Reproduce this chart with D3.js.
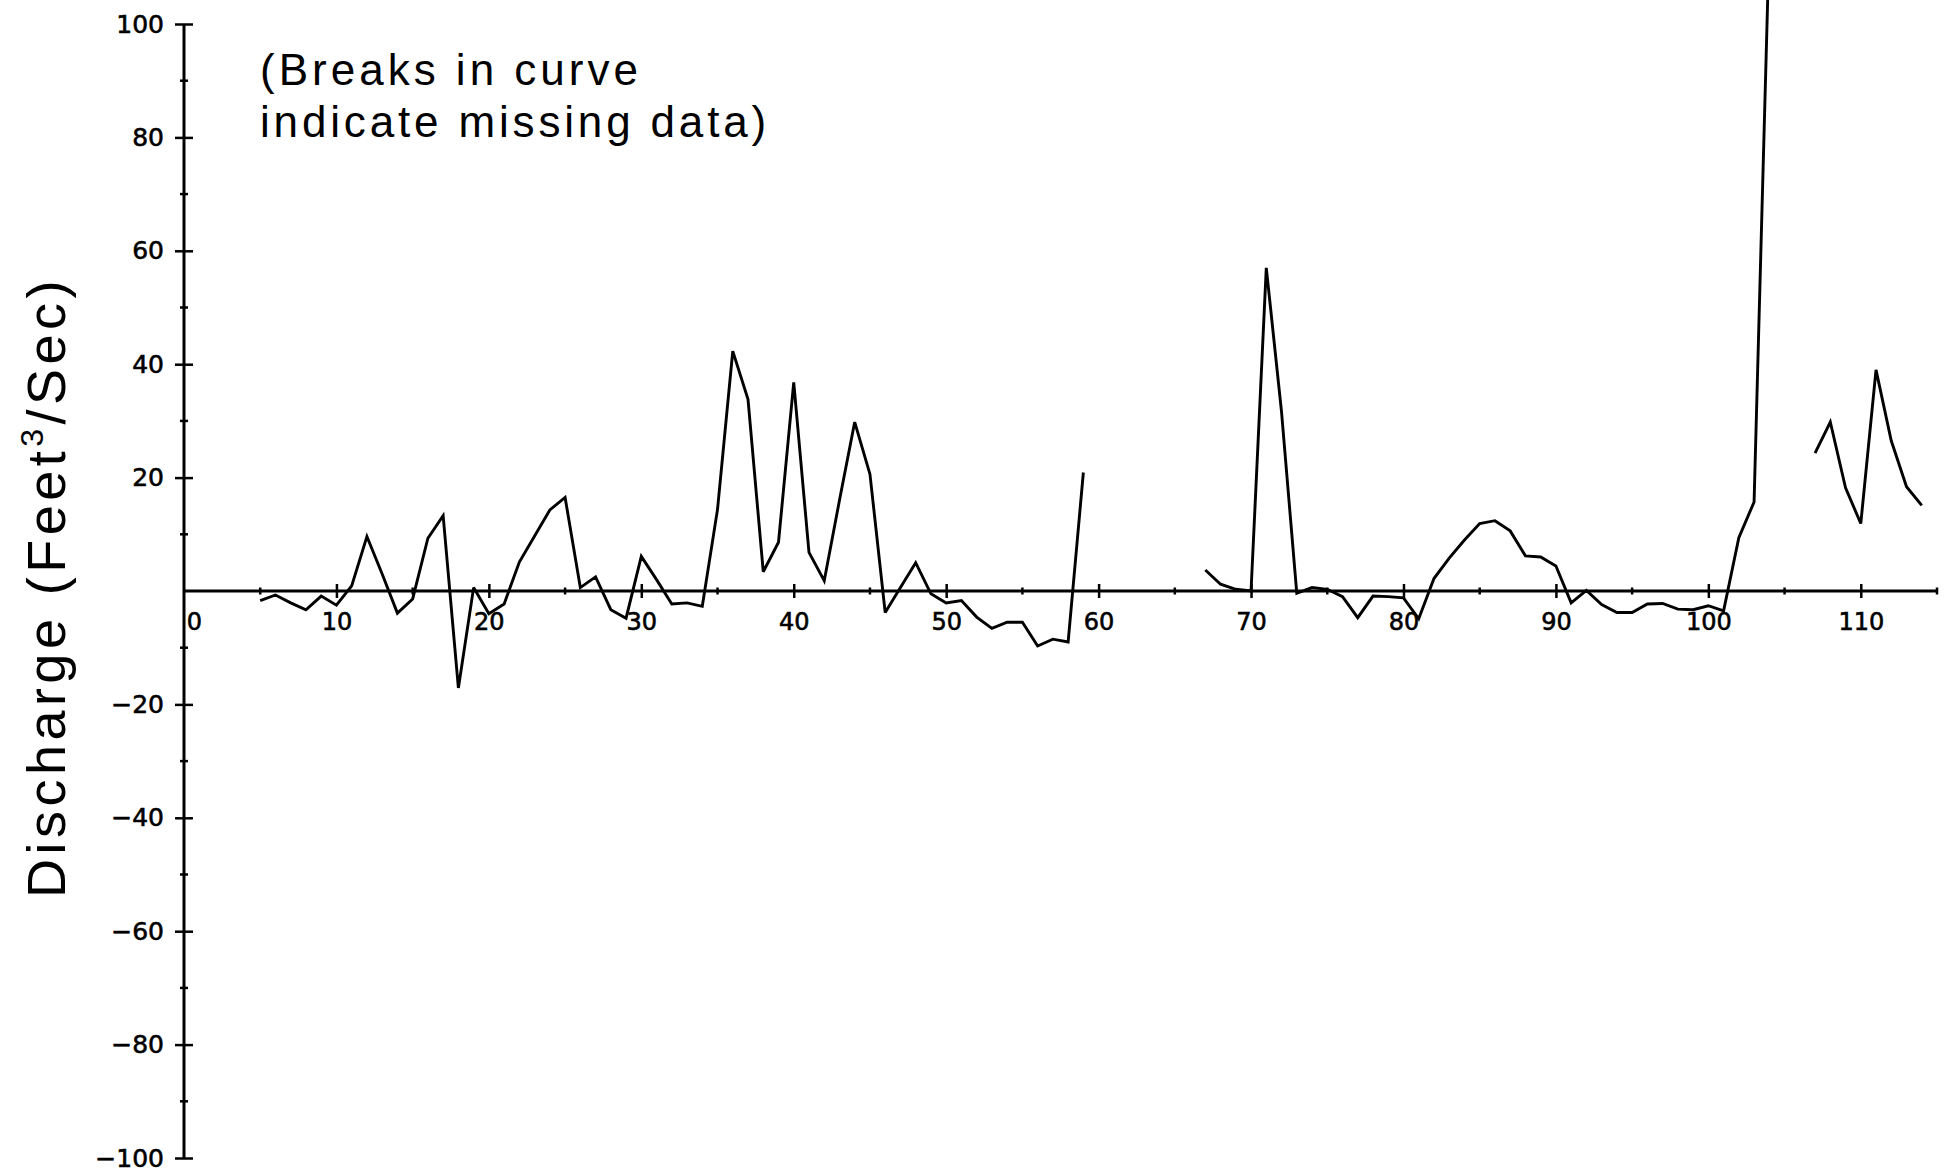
<!DOCTYPE html>
<html>
<head>
<meta charset="utf-8">
<script src="https://cdn.jsdelivr.net/npm/d3@7"></script>
<style>
  html, body { margin: 0; padding: 0; background: #fff; overflow: hidden; }
  svg { display: block; }
  text { fill: #000; }
</style>
</head>
<body>
<svg id="chart" width="1949" height="1173"></svg>
<script>
// ---- data (day number, discharge in ft^3/s; null = missing) ----
const days = d3.range(5, 115);
const discharge = [
  -1.7, -0.7, -2.1, -3.3, -0.9, -2.5, 0.9, 9.6, 3.0, -3.9,        // 5-14
  -1.4, 9.3, 13.3, -17.1, 0.6, -4.0, -2.3, 5.1, 9.7, 14.3,        // 15-24
  16.5, 0.6, 2.5, -3.3, -4.8, 6.1, 2.0, -2.3, -2.1, -2.7,         // 25-34
  14.4, 42.3, 33.8, 3.4, 8.6, 36.8, 6.8, 1.8, 16.0, 29.8,         // 35-44
  20.6, -3.8, 0.6, 5.0, -0.5, -2.1, -1.7, -4.6, -6.6, -5.5,       // 45-54
  -5.5, -9.7, -8.5, -9.0, 20.9, null, null, null, null, null,     // 55-64
  null, null, 3.7, 1.2, 0.3, 0.0, 57.0, 31.6, -0.4, 0.6,          // 65-74
  0.3, -1.0, -4.7, -0.9, -1.0, -1.2, -4.9, 2.2, 5.8, 9.0,         // 75-84
  11.9, 12.4, 10.6, 6.2, 6.0, 4.4, -2.1, 0.1, -2.4, -3.8,         // 85-94
  -3.8, -2.3, -2.2, -3.2, -3.3, -2.6, -3.5, 9.4, 15.7, 115,       // 95-104
  null, null, 24.3, 29.8, 18.2, 11.9, 39.0, 26.5, 18.4, 15.1      // 105-114
];
const xMajorTicks = [0, 10, 20, 30, 40, 50, 60, 70, 80, 90, 100, 110];
const xMinorTicks = [5, 15, 25, 35, 45, 55, 65, 75, 85, 95, 105, 115];
const yMajorTicks = [-100, -80, -60, -40, -20, 0, 20, 40, 60, 80, 100];
const yMinorTicks = [-90, -70, -50, -30, -10, 10, 30, 50, 70, 90];
const yTitle = ["Discharge (Feet", "3", "/Sec)"];
const noteLines = ["(Breaks in curve", "indicate missing data)"];

// ---- layout ----
const svg = d3.select("#chart");
const x = d3.scaleLinear().domain([0, 115]).range([184, 1937]);
const y = d3.scaleLinear().domain([-100, 100]).range([1158, 24]);
const data = days.map((d, i) => ({ day: d, q: discharge[i] }));

const axisStroke = 3;
const tickFont = "'DejaVu Sans', Verdana, sans-serif";
const textFont = "'Liberation Sans', Arial, sans-serif";

// X axis (zero line)
const gx = svg.append("g").attr("transform", `translate(0,${y(0)})`);
gx.call(d3.axisBottom(x).tickValues(xMajorTicks).tickSize(0).tickPadding(22).tickFormat(d3.format("d")));
gx.select(".domain").attr("stroke", "#000").attr("stroke-width", axisStroke).attr("d", `M${x(0)},0H${x(115)}`);
gx.selectAll(".tick text").style("font-size", "24px").style("font-family", tickFont).style("fill", "#000")
  .style("stroke", "#000").style("stroke-width", "0.6px")
  .attr("dx", d => d === 0 ? 10 : 0);
gx.selectAll(".tick line").remove();
gx.selectAll(".tick").filter(d => d !== 0).append("line")
  .attr("y1", -7).attr("y2", 7).attr("stroke", "#000").attr("stroke-width", 2.5);
gx.selectAll(".minor").data(xMinorTicks).enter().append("line").attr("class", "minor")
  .attr("x1", d => x(d)).attr("x2", d => x(d)).attr("y1", -3.5).attr("y2", 3.5)
  .attr("stroke", "#000").attr("stroke-width", 2.5);

// Y axis
const gy = svg.append("g").attr("transform", `translate(${x(0)},0)`);
gy.call(d3.axisLeft(y).tickValues(yMajorTicks.filter(d => d !== 0)).tickSize(0).tickPadding(20));
gy.select(".domain").attr("stroke", "#000").attr("stroke-width", axisStroke).attr("d", `M0,${y(-100)}V${y(100)}`);
gy.selectAll(".tick text").style("font-size", "25px").style("font-family", tickFont).style("fill", "#000")
  .style("stroke", "#000").style("stroke-width", "0.6px");
gy.selectAll(".tick line").remove();
gy.selectAll(".tick").append("line")
  .attr("x1", -9).attr("x2", 9).attr("stroke", "#000").attr("stroke-width", 2.5);
gy.selectAll(".minor").data(yMinorTicks).enter().append("line").attr("class", "minor")
  .attr("y1", d => y(d)).attr("y2", d => y(d)).attr("x1", -4).attr("x2", 4)
  .attr("stroke", "#000").attr("stroke-width", 2.5);

// Data line with breaks
const line = d3.line().defined(d => d.q !== null).x(d => x(d.day)).y(d => y(d.q));
svg.append("path").datum(data).attr("d", line)
  .attr("fill", "none").attr("stroke", "#000").attr("stroke-width", 2.9)
  .attr("stroke-linejoin", "miter").attr("stroke-miterlimit", 3);

// Y title
const t = svg.append("text")
  .attr("transform", `translate(65,587) rotate(-90)`)
  .attr("text-anchor", "middle").style("font-family", textFont).style("font-size", "54px");
t.append("tspan").text(yTitle[0]);
t.append("tspan").text(yTitle[1]).style("font-size", "32px").attr("dy", -22);
t.append("tspan").text(yTitle[2]).attr("dy", 22);
const nChars = yTitle.join("").length;
const natural = t.node().getComputedTextLength();
t.attr("letter-spacing", (622 - natural) / nChars);

// Annotation
const noteTargets = [382, 510];
noteLines.forEach((s, i) => {
  const tt = svg.append("text").style("font-size", "44px").style("font-family", textFont)
    .attr("x", 260).attr("y", 85 + i * 52).text(s);
  const w = tt.node().getComputedTextLength();
  tt.attr("letter-spacing", (noteTargets[i] - w) / s.length);
});
</script>
</body>
</html>
